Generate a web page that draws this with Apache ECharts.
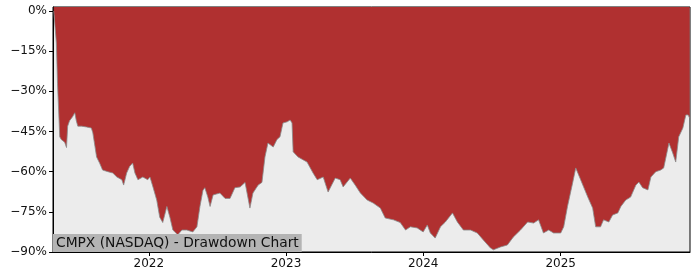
<!DOCTYPE html>
<html>
<head>
<meta charset="utf-8">
<script src="https://cdn.jsdelivr.net/npm/echarts@6/dist/echarts.min.js"></script>
<style>html,body{margin:0;padding:0;background:#fff}#c{width:700px;height:280px}</style>
</head>
<body>
<div id="c"></div>
<script>
const dates = ["2021-04-23","2021-04-25","2021-04-30","2021-05-03","2021-05-09","2021-05-13","2021-05-22","2021-05-27","2021-05-30","2021-06-04","2021-06-12","2021-06-18","2021-06-22","2021-06-26","2021-07-06","2021-07-19","2021-08-01","2021-08-05","2021-08-15","2021-08-23","2021-08-31","2021-09-14","2021-09-27","2021-10-08","2021-10-21","2021-10-26","2021-11-03","2021-11-11","2021-11-19","2021-11-25","2021-12-03","2021-12-16","2021-12-29",
"2022-01-04","2022-01-12","2022-01-22","2022-01-30","2022-02-07","2022-02-18","2022-02-26","2022-03-06","2022-03-19","2022-03-30","2022-04-12","2022-04-28","2022-05-09","2022-05-17","2022-05-25","2022-05-30","2022-06-07","2022-06-13","2022-06-21","2022-07-09","2022-07-23","2022-08-05","2022-08-18","2022-09-01","2022-09-14","2022-09-27","2022-10-05","2022-10-19","2022-10-29","2022-11-06","2022-11-14","2022-11-28","2022-12-08","2022-12-16","2022-12-24",
"2023-01-04","2023-01-12","2023-01-17","2023-01-20","2023-02-02","2023-02-16","2023-02-26","2023-03-14","2023-03-25","2023-04-10","2023-04-23","2023-05-12","2023-05-25","2023-06-02","2023-06-21","2023-07-04","2023-07-18","2023-08-05","2023-08-21","2023-09-09","2023-09-22","2023-10-14","2023-11-01","2023-11-15","2023-11-28","2023-12-16",
"2024-01-01","2024-01-12","2024-01-20","2024-02-02","2024-02-16","2024-02-29","2024-03-19","2024-04-01","2024-04-17","2024-05-06","2024-05-24","2024-06-09","2024-06-28","2024-07-06","2024-07-25","2024-08-12","2024-08-28","2024-09-16","2024-10-05","2024-10-21","2024-11-03","2024-11-16","2024-11-30","2024-12-13",
"2025-01-01","2025-01-09","2025-01-19","2025-02-02","2025-02-10","2025-02-23","2025-03-14","2025-03-27","2025-04-04","2025-04-17","2025-04-25","2025-05-09","2025-05-19","2025-06-02","2025-06-10","2025-06-23","2025-07-06","2025-07-20","2025-07-28","2025-08-07","2025-08-21","2025-08-29","2025-09-11","2025-09-24","2025-10-02","2025-10-16","2025-10-26","2025-11-03","2025-11-11","2025-11-22","2025-11-30","2025-12-06","2025-12-10"];
const drawdown = [0,-0.7,-12,-27,-47,-48,-49,-51,-43,-41,-39.5,-38,-41,-43,-43,-43.3,-43.7,-45.5,-54.5,-56.8,-59.4,-60,-60.5,-62,-63,-65,-60.5,-58,-56.8,-60.5,-63,-62,-63,
-62,-65.7,-70.6,-77,-79,-73,-77,-81.8,-83.6,-81.8,-81.8,-82.5,-80.6,-73,-67,-66,-69.5,-73,-68.7,-68,-70,-70,-66,-65.7,-64,-73.6,-68,-65,-64,-54.5,-49.3,-50.8,-48,-47,-41.8,
-41.4,-40.7,-41.8,-52.6,-54.5,-55.6,-56.4,-60.5,-63,-62,-67.6,-62.4,-63,-65.7,-62.4,-65,-68,-70.6,-71.7,-73.6,-77.3,-78,-79,-81.8,-80.6,-81,
-82.5,-79.9,-82.9,-84.8,-80.6,-78.8,-75.4,-78.8,-81.8,-81.8,-82.9,-85.5,-88.5,-89.2,-88.1,-87.4,-84.4,-81.8,-78.8,-79.2,-78,-82.9,-81.8,-82.9,
-82.9,-80.6,-73,-64,-58.6,-63,-69.5,-73.6,-80.6,-80.6,-78,-78.8,-76.2,-75.4,-73,-70.6,-69.5,-65,-63.9,-66,-66.8,-62,-60,-59.4,-58.6,-49.3,-53,-56.4,-47,-43.7,-38.8,-38.8,-40];
const yTicks = [0,-15,-30,-45,-60,-75,-90];
const xTickYears = ["2022","2023","2024","2025"];
const titleText = "CMPX (NASDAQ) - Drawdown Chart";

const ts = s => Date.parse(s + 'T00:00:00Z');
const xTickVals = xTickYears.map(y => ts(y + '-01-01'));
const chart = echarts.init(document.getElementById('c'), null, {renderer:'canvas'});
const FONT = 'DejaVu Sans';
chart.setOption({
  animation:false,
  grid:{left:53,right:10,top:7,bottom:28,show:true,backgroundColor:'#ececec',borderColor:'#000',borderWidth:1},
  xAxis:{
    type:'value',
    min:ts('2021-04-21'),
    max:ts('2025-12-11'),
    splitLine:{show:false},
    axisLine:{show:true,onZero:false,lineStyle:{color:'#000',width:1}},
    axisTick:{show:true,length:4,lineStyle:{color:'#000'},customValues:xTickVals},
    axisLabel:{customValues:xTickVals,formatter:v=>String(new Date(v).getUTCFullYear()),color:'#111',fontFamily:FONT,fontSize:12,margin:6}
  },
  yAxis:{
    type:'value',min:-90,max:1.5,
    splitLine:{show:false},
    axisLine:{show:true,lineStyle:{color:'#000',width:1}},
    axisTick:{show:true,length:4,lineStyle:{color:'#000'},customValues:yTicks},
    axisLabel:{customValues:yTicks,formatter:v=>(v<0?'\u2212'+Math.abs(v):v)+'%',color:'#111',fontFamily:FONT,fontSize:12,margin:6}
  },
  title:{text:titleText,left:53,bottom:28,padding:[2,3,2,3],backgroundColor:'#b4b4b4',textStyle:{fontFamily:FONT,fontSize:13.8,fontWeight:'normal',color:'#111'}},
  series:[{
    type:'line',
    data:dates.map((d,i)=>[ts(d),drawdown[i]]),
    showSymbol:false,
    lineStyle:{color:'#8a8a8a',width:0.8},
    areaStyle:{color:'#b03030',opacity:1,origin:'end'},
    z:1
  }]
});
</script>
</body>
</html>
